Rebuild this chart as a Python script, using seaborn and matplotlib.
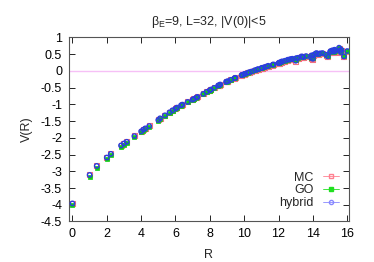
import matplotlib
matplotlib.use("Agg")
import matplotlib.pyplot as plt
from matplotlib.lines import Line2D
import seaborn as sns

sns.set_style("ticks")
plt.rcParams["font.family"] = ["Liberation Sans", "DejaVu Sans"]
plt.rcParams["mathtext.fontset"] = "custom"
plt.rcParams["mathtext.rm"] = "Liberation Sans"
plt.rcParams["mathtext.it"] = "Liberation Sans"

# distances R (planar lattice separations)
R = [0, 1, 1.414, 2, 2.236, 2.828, 3, 3.162, 3.606, 4, 4.123, 4.243, 4.472,
     5, 5.099, 5.385, 5.657, 5.831, 6, 6.083, 6.325, 6.403, 6.708,
     7, 7.071, 7.211, 7.280, 7.616, 7.810,
     8, 8.062, 8.246, 8.485, 8.544, 8.602, 8.944,
     9, 9.055, 9.220, 9.434, 9.487, 9.849, 9.899,
     10, 10.05, 10.198, 10.296, 10.440, 10.630, 10.770, 10.817,
     11, 11.045, 11.180, 11.314, 11.402, 11.662, 11.705,
     12, 12.042, 12.083, 12.166, 12.207, 12.369, 12.530, 12.649, 12.728, 12.806,
     13, 13.038, 13.153, 13.342, 13.416, 13.454, 13.601, 13.892, 13.928,
     14, 14.036, 14.142, 14.213, 14.318, 14.422, 14.560, 14.765, 14.866,
     15, 15.033, 15.133, 15.232, 15.264, 15.297, 15.524, 15.556, 15.620, 15.652, 15.811, 16]

V_mc = [-3.95, -3.10, -2.83, -2.58, -2.47, -2.22, -2.16, -2.11, -1.94, -1.80, -1.75, -1.71, -1.64,
        -1.46, -1.42, -1.33, -1.24, -1.18, -1.13, -1.10, -1.03, -1.01, -0.93,
        -0.86, -0.84, -0.80, -0.78, -0.69, -0.63,
        -0.58, -0.56, -0.51, -0.44, -0.43, -0.41, -0.33,
        -0.32, -0.31, -0.27, -0.22, -0.21, -0.13, -0.12,
        -0.10, -0.09, -0.06, -0.04, -0.02, 0.02, 0.04, 0.05,
        0.07, 0.08, 0.10, 0.12, 0.14, 0.17, 0.18,
        0.22, 0.23, 0.24, 0.26, 0.27, 0.29, 0.32, 0.33, 0.34, 0.35,
        0.29, 0.37, 0.38, 0.42, 0.41, 0.40, 0.43, 0.38, 0.45,
        0.35, 0.46, 0.50, 0.52, 0.49, 0.51, 0.52, 0.47, 0.42,
        0.55, 0.58, 0.60, 0.56, 0.62, 0.58, 0.68, 0.60, 0.55, 0.62, 0.42, 0.58]

V_go = [-4.02, -3.16, -2.89, -2.64, -2.52, -2.28, -2.21, -2.15, -1.98, -1.84, -1.79, -1.74, -1.67,
        -1.49, -1.44, -1.35, -1.26, -1.20, -1.15, -1.12, -1.05, -1.02, -0.94,
        -0.87, -0.85, -0.81, -0.79, -0.70, -0.64,
        -0.59, -0.57, -0.52, -0.45, -0.43, -0.41, -0.33,
        -0.32, -0.31, -0.27, -0.22, -0.21, -0.13, -0.12,
        -0.10, -0.09, -0.06, -0.04, -0.02, 0.02, 0.04, 0.05,
        0.08, 0.09, 0.11, 0.13, 0.15, 0.18, 0.19,
        0.23, 0.24, 0.25, 0.27, 0.28, 0.30, 0.33, 0.34, 0.35, 0.36,
        0.31, 0.38, 0.39, 0.43, 0.42, 0.41, 0.44, 0.39, 0.46,
        0.37, 0.47, 0.51, 0.53, 0.50, 0.52, 0.53, 0.48, 0.43,
        0.56, 0.59, 0.61, 0.57, 0.63, 0.59, 0.69, 0.61, 0.56, 0.63, 0.43, 0.59]

V_hybrid = [-3.96, -3.11, -2.84, -2.59, -2.48, -2.23, -2.17, -2.12, -1.95, -1.81, -1.76, -1.72, -1.65,
            -1.47, -1.42, -1.33, -1.24, -1.18, -1.13, -1.10, -1.03, -1.01, -0.93,
            -0.86, -0.84, -0.80, -0.78, -0.69, -0.63,
            -0.58, -0.56, -0.51, -0.44, -0.43, -0.41, -0.33,
            -0.32, -0.31, -0.27, -0.22, -0.21, -0.13, -0.12,
            -0.10, -0.09, -0.06, -0.04, -0.02, 0.02, 0.04, 0.05,
            0.08, 0.09, 0.11, 0.13, 0.15, 0.18, 0.19,
            0.23, 0.24, 0.25, 0.27, 0.28, 0.30, 0.33, 0.34, 0.35, 0.36,
            0.30, 0.38, 0.39, 0.43, 0.42, 0.41, 0.44, 0.39, 0.46,
            0.36, 0.47, 0.51, 0.53, 0.50, 0.52, 0.53, 0.48, 0.43,
            0.56, 0.59, 0.61, 0.57, 0.63, 0.59, 0.69, 0.61, 0.56, 0.63, 0.43, 0.59]

labels = ["MC", "GO", "hybrid"]
colors = ["#f07080", "#10d010", "#2a3ee0"]

fig = plt.figure(figsize=(3.74, 2.62), dpi=100)
ax = fig.add_axes([0.1845, 0.1546, 0.7485, 0.703])

ax.axhline(0, color="#f6c0f6", lw=1.0, zorder=1)

sns.scatterplot(x=R, y=V_mc, marker="s", s=13, facecolor="none",
                edgecolor=colors[0], linewidth=0.8, ax=ax, zorder=3)
sns.scatterplot(x=R, y=V_go, marker="s", s=11, color=colors[1],
                edgecolor=colors[1], linewidth=0.5, ax=ax, zorder=4)
sns.scatterplot(x=R, y=V_hybrid, marker="o", s=10, facecolor="none",
                edgecolor=colors[2], linewidth=1.0, ax=ax, zorder=5)

ax.set_xlim(-0.2, 16.1)
ax.set_ylim(-4.5, 1)
ax.set_xticks(range(0, 17, 2))
ax.set_yticks([1, 0.5, 0, -0.5, -1, -1.5, -2, -2.5, -3, -3.5, -4, -4.5])
ax.set_yticklabels(["1", "0.5", "0", "-0.5", "-1", "-1.5", "-2", "-2.5",
                    "-3", "-3.5", "-4", "-4.5"])
ax.tick_params(direction="in", length=4, width=0.6, top=True, right=True,
               labelsize=9, colors="#000000", pad=5)
for sp in ax.spines.values():
    sp.set_visible(True)
    sp.set_linewidth(0.8)
    sp.set_color("#555555")

ax.set_xlabel("R", fontsize=9, labelpad=6)
ax.set_ylabel("V(R)", fontsize=9, labelpad=6)
ax.set_title(r"$\beta_E$=9, L=32, |V(0)|<5", fontsize=9, pad=9)

leg_colors = ["#ff8090", "#20e020", "#8888ff"]
handles = [
    Line2D([], [], color=leg_colors[0], lw=0.6, marker="s", ms=3, mfc="none", mec=leg_colors[0]),
    Line2D([], [], color=leg_colors[1], lw=0.6, marker="s", ms=3, mfc=leg_colors[1], mec=leg_colors[1]),
    Line2D([], [], color=leg_colors[2], lw=0.6, marker="o", ms=3, mfc="none", mec=leg_colors[2]),
]
ax.legend(handles, labels, loc="lower right", frameon=False, markerfirst=False,
          fontsize=9, handlelength=1.3, handletextpad=0.7, labelspacing=0.05,
          borderaxespad=0.3, bbox_to_anchor=(0.995, 0.02))

fig.savefig("out.png", dpi=100)
